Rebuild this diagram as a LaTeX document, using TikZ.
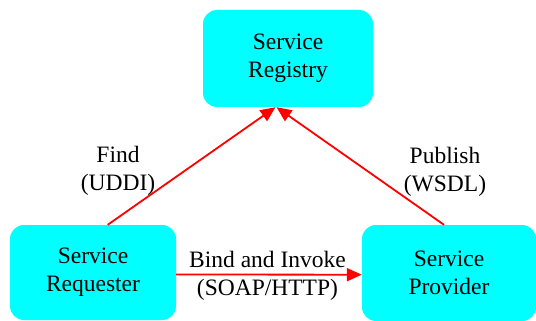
\documentclass[tikz,border=0pt]{standalone}
\usepackage{fontspec}
\setmainfont{Liberation Serif}
\usetikzlibrary{arrows.meta}
\tikzset{
  svc/.style={rectangle, rounded corners=14pt, fill=cyan!100, draw=none,
    align=center, inner sep=0pt, font=\fontsize{23.5}{28}\selectfont},
  lbl/.style={align=center, inner sep=0pt, font=\fontsize{23.5}{28}\selectfont},
  rel/.style={draw=red, line width=1.8pt, -{Triangle[length=15pt,width=13pt]}}
}
\definecolor{cyan}{RGB}{0,255,255}
\begin{document}
\begin{tikzpicture}[x=1pt,y=-1pt]
\useasboundingbox (0,0) rectangle (536,321);
\node[svc, minimum width=170pt, minimum height=97pt] (reg) at (288,58.5) {Service\\Registry};
\node[svc, minimum width=166pt, minimum height=95pt] (req) at (93,272.5) {Service\\Requester};
\node[svc, minimum width=174pt, minimum height=96pt] (prov) at (449,273) {Service\\Provider};
\draw[rel] ([xshift=14.7pt]req.north) -- ([xshift=-12.5pt]reg.south);
\draw[rel] ([xshift=-5pt]prov.north) -- ([xshift=-11.5pt]reg.south);
\draw[rel] ([yshift=-2pt]req.east) -- ([yshift=-1.7pt]prov.west);
\node[lbl] (findlbl) at (118,170.5) {Find\\(UDDI)};
\node[lbl] (publbl) at (445,171.5) {Publish\\(WSDL)};
\node[lbl] (bindlbl) at (267.5,276) {Bind and Invoke\\(SOAP/HTTP)};
\end{tikzpicture}
\end{document}
